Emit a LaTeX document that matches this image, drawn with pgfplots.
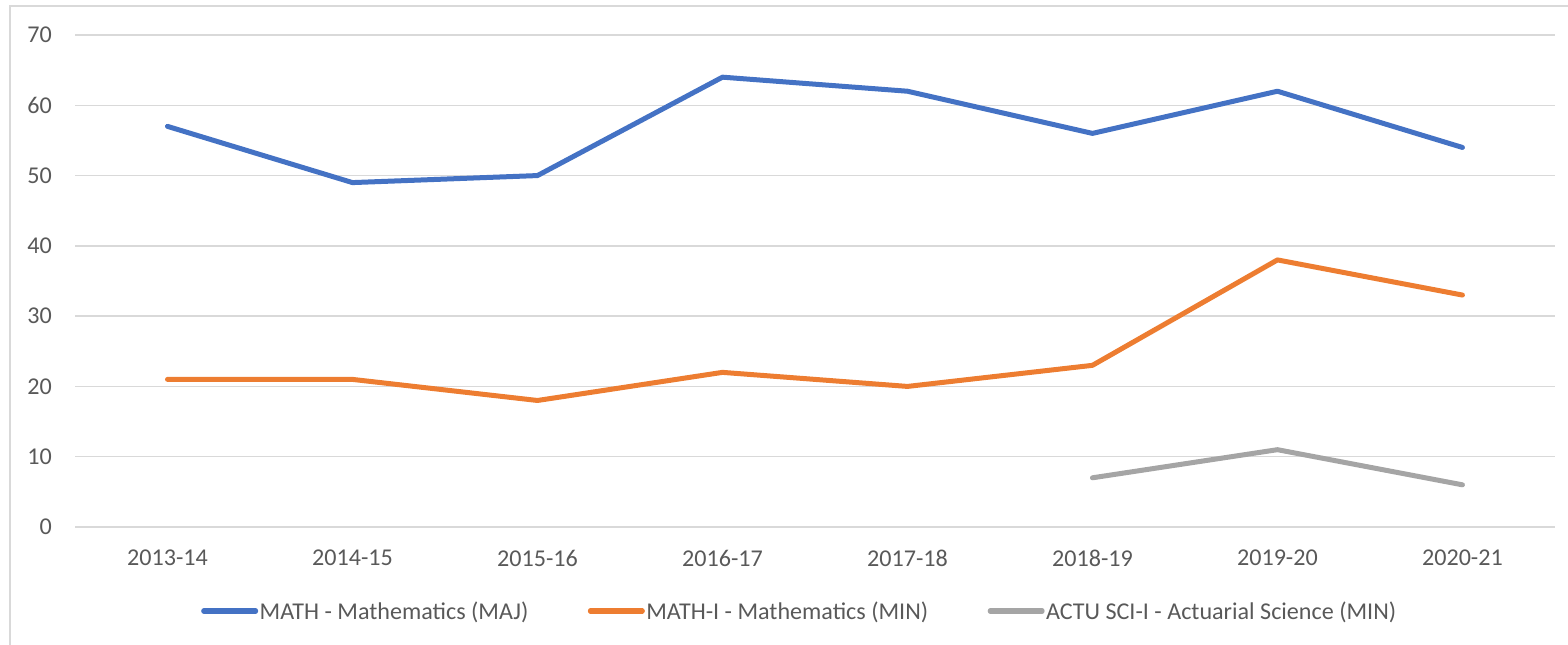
\documentclass[border=0pt]{standalone}
\usepackage{pgfplots}
\pgfplotsset{compat=1.18}
\usepackage{fontspec}
\setmainfont{Carlito}
\definecolor{cblue}{HTML}{4472C4}
\definecolor{corange}{HTML}{ED7D31}
\definecolor{cgray}{HTML}{A5A5A5}
\definecolor{ctext}{HTML}{595959}
\definecolor{cgrid}{HTML}{D9D9D9}
\begin{document}
\begin{tikzpicture}
\useasboundingbox (0bp,0bp) rectangle (1568bp,645bp);
\draw[cgrid, line width=1.5bp] (10bp,-10bp) -- (10bp,639bp) -- (1580bp,639bp);
\begin{axis}[
  at={(75bp,118bp)}, anchor=south west,
  scale only axis, width=1480bp, height=492bp,
  xmin=-0.5, xmax=7.5, ymin=0, ymax=70,
  xtick={0,...,7},
  xticklabels={2013-14,2014-15,2015-16,2016-17,2017-18,2018-19,2019-20,2020-21},
  ytick={0,10,...,70},
  axis line style={draw=none},
  major tick style={draw=none},
  ymajorgrids, major grid style={cgrid, line width=1.5bp},
  /pgf/number format/assume math mode=true,
  tick label style={font=\fontsize{24.2}{28}\selectfont, text=ctext, inner sep=0pt},
  yticklabel style={anchor=east, xshift=-23bp},
  xticklabel style={anchor=north, yshift=-23bp},
  legend columns=3,
  legend style={at={(axis description cs:0,0)}, anchor=west, xshift=126bp, yshift=-84bp,
    draw=none, fill=none, inner sep=0pt,
    nodes={inner sep=1.5bp, text=ctext, font=\fontsize{24.2}{28}\selectfont},
    /tikz/column 2/.style={column sep=58bp},
    /tikz/column 4/.style={column sep=58bp}},
  legend image code/.code={\draw[#1, line width=5bp, line cap=round] (2.5bp,0bp) -- (54.5bp,0bp);},
  every axis plot/.append style={line width=5bp, line cap=round, line join=round},
]
\addplot[cblue] coordinates {(0,57) (1,49) (2,50) (3,64) (4,62) (5,56) (6,62) (7,54)};
\addlegendentry{MATH - Mathematics (MAJ)}
\addplot[corange] coordinates {(0,21) (1,21) (2,18) (3,22) (4,20) (5,23) (6,38) (7,33)};
\addlegendentry{MATH-I - Mathematics (MIN)}
\addplot[cgray] coordinates {(5,7) (6,11) (7,6)};
\addlegendentry{ACTU SCI-I - Actuarial Science (MIN)}
\end{axis}
\end{tikzpicture}
\end{document}
